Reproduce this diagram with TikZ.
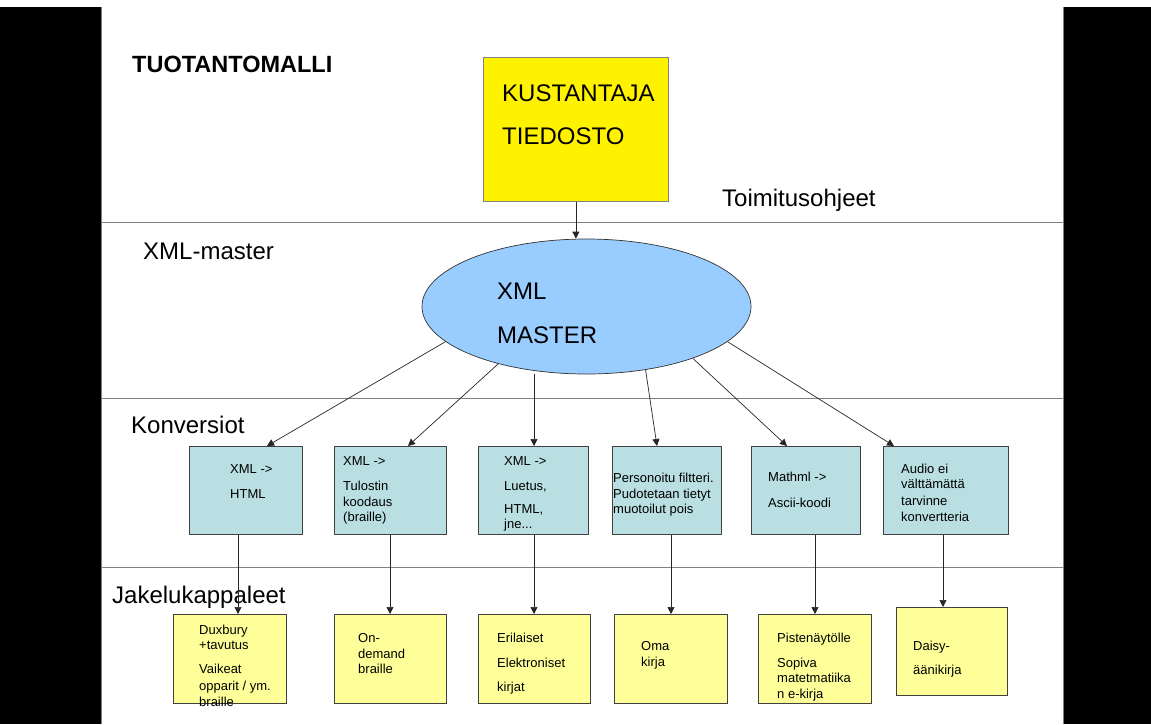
\documentclass[tikz,border=0pt]{standalone}
\usepackage{fontspec}
\setmainfont{Liberation Sans}
\usetikzlibrary{arrows.meta,shapes.geometric,calc}
\definecolor{convfill}{RGB}{185,223,227}
\definecolor{distfill}{RGB}{255,255,153}
\definecolor{masterfill}{RGB}{153,204,255}
\definecolor{rulegray}{RGB}{128,128,128}
\definecolor{edgegray}{RGB}{64,64,64}
\begin{document}
\begin{tikzpicture}[x=1pt,y=-1pt,
  big/.style={font=\fontsize{24}{28}\selectfont, inner sep=0pt, anchor=base west},
  small/.style={font=\fontsize{13}{15}\selectfont, inner sep=0pt, anchor=base west},
  boxbase/.style={draw=edgegray, line width=0.8pt, anchor=north west, inner sep=0pt},
  convbox/.style={boxbase, fill=convfill, minimum height=88pt},
  distbox/.style={boxbase, fill=distfill, minimum height=89pt},
  arr/.style={draw=black!85, line width=0.7pt, -{Triangle[length=7pt,width=7pt]}},
  band/.style={draw=rulegray, line width=0.9pt}]
\useasboundingbox (0,0) rectangle (1151,724);
% side bars of the slide frame
\fill[black] (0,7) rectangle (101,724);
\fill[black] (1063,7) rectangle (1151,724);
\draw[rulegray, line width=0.8pt] (101,7) -- (101,724) (1063,7) -- (1063,724);
% horizontal bands
\draw[band] (101,222) -- (1063,222);
\draw[band] (101,398.5) -- (1063,398.5);
\draw[band] (101,567) -- (1063,567);

% headings
\node[big, font=\fontsize{23.5}{28}\selectfont\bfseries] (title) at (132,72) {TUOTANTOMALLI};
\node[big] (toim) at (722,206) {Toimitusohjeet};
\node[big] (lxml) at (143,259) {XML-master};
\node[big] (lkonv) at (131,433) {Konversiot};
\node[big] (ljak) at (112,603) {Jakelukappaleet};

% source file
\node[boxbase, draw=gray, fill=yellow, minimum width=185pt, minimum height=144pt] (kust) at (483,57) {};
\node[big] (kust1) at (502,101) {KUSTANTAJA};
\node[big] (kust2) at (502,144) {TIEDOSTO};

% master
\node[ellipse, draw=black!80, line width=0.7pt, fill=masterfill, minimum width=329pt, minimum height=135pt, inner sep=0pt] (xml) at (586.5,306.5) {};
\node[big] (xml1) at (497,299) {XML};
\node[big] (xml2) at (497,343) {MASTER};
\draw[arr] (kust.south) -- (kust.south |- xml.north);

% conversions
\node[convbox, minimum width=113pt] (c1) at (189,446) {};
\node[convbox, minimum width=112pt] (c2) at (334,446) {};
\node[convbox, minimum width=110pt] (c3) at (478,446) {};
\node[convbox, minimum width=109pt] (c4) at (612,446) {};
\node[convbox, minimum width=109pt] (c5) at (751,446) {};
\node[convbox, minimum width=125pt] (c6) at (883,446) {};

\foreach \y/\t [count=\i] in {473/{XML ->}, 498/HTML}
  \node[small] (c1t\i) at (230,\y) {\t};
\foreach \y/\t [count=\i] in {465/{XML ->}, 490/Tulostin, 506/koodaus, 521/(braille)}
  \node[small] (c2t\i) at (343,\y) {\t};
\foreach \y/\t [count=\i] in {465/{XML ->}, 490/{Luetus,}, 513/{HTML,}, 528/{jne...}}
  \node[small] (c3t\i) at (504,\y) {\t};
\foreach \y/\t [count=\i] in {482/{Personoitu filtteri.}, 498/{Pudotetaan tietyt}, 513/{muotoilut pois}}
  \node[small] (c4t\i) at (613,\y) {\t};
\foreach \y/\t [count=\i] in {481/{Mathml ->}, 507/{Ascii-koodi}}
  \node[small] (c5t\i) at (768,\y) {\t};
\foreach \y/\t [count=\i] in {473/{Audio ei}, 488/{välttämättä}, 505/{tarvinne}, 521/{konvertteria}}
  \node[small] (c6t\i) at (901,\y) {\t};

% master -> conversions
\coordinate (in3) at ([xshift=56pt]c3.north west);
\draw[arr] (xml.194.5) -- ([xshift=78pt]c1.north west);
\draw[arr] (xml.213.2) -- ([xshift=74pt]c2.north west);
\draw[arr] (in3 |- xml.south) -- (in3);
\draw[arr] (xml.313.9) -- ([xshift=45pt]c4.north west);
\draw[arr] (xml.334.6) -- ([xshift=36pt]c5.north west);
\draw[arr] (xml.346.3) -- ([xshift=11pt]c6.north west);

% distribution copies
\node[distbox, minimum width=113pt] (d1) at (173,614) {};
\node[distbox, minimum width=112pt] (d2) at (334,614) {};
\node[distbox, minimum width=112pt] (d3) at (478,614) {};
\node[distbox, minimum width=113pt] (d4) at (614,614) {};
\node[distbox, minimum width=113pt] (d5) at (758,614) {};
\node[distbox, minimum width=111pt, minimum height=88pt] (d6) at (896,607) {};

\foreach \y/\t [count=\i] in {634/Duxbury, 649/{+tavutus}, 673/Vaikeat, 690/{opparit / ym.}, 706/braille}
  \node[small] (d1t\i) at (199,\y) {\t};
\foreach \y/\t [count=\i] in {642/{On-}, 658/demand, 673/braille}
  \node[small] (d2t\i) at (358,\y) {\t};
\foreach \y/\t [count=\i] in {642/Erilaiset, 667/Elektroniset, 691/kirjat}
  \node[small] (d3t\i) at (497,\y) {\t};
\foreach \y/\t [count=\i] in {650/Oma, 666/kirja}
  \node[small] (d4t\i) at (641,\y) {\t};
\foreach \y/\t [count=\i] in {642/Pistenäytölle, 667/Sopiva, 682/matetmatiika, 698/{n e-kirja}}
  \node[small] (d5t\i) at (777,\y) {\t};
\foreach \y/\t [count=\i] in {650/{Daisy-}, 674/äänikirja}
  \node[small] (d6t\i) at (913,\y) {\t};

% conversion -> copy
\coordinate (p1) at ([xshift=49pt]c1.south west);
\coordinate (p2) at ([xshift=56pt]c2.south west);
\coordinate (p3) at ([xshift=56pt]c3.south west);
\coordinate (p4) at ([xshift=59pt]c4.south west);
\coordinate (p5) at ([xshift=64pt]c5.south west);
\coordinate (p6) at ([xshift=60pt]c6.south west);
\draw[arr] (p1) -- (p1 |- d1.north);
\draw[arr] (p2) -- (p2 |- d2.north);
\draw[arr] (p3) -- (p3 |- d3.north);
\draw[arr] (p4) -- (p4 |- d4.north);
\draw[arr] (p5) -- (p5 |- d5.north);
\draw[arr] (p6) -- (p6 |- d6.north);
\end{tikzpicture}
\end{document}
